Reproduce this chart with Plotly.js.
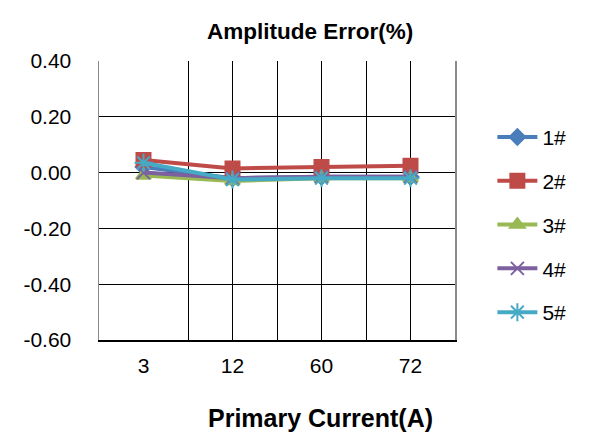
<!DOCTYPE html>
<html>
<head>
<meta charset="utf-8">
<script src="https://cdn.plot.ly/plotly-3.0.1.min.js"></script>
<style>html,body{margin:0;padding:0;background:#fff;}#chart{width:600px;height:442px;}</style>
</head>
<body>
<div id="chart"></div>
<script>
const categories = ['3', '12', '60', '72'];
const s1 = [0.02, -0.02, -0.015, -0.015];
const s2 = [0.045, 0.015, 0.02, 0.025];
const s3 = [-0.01, -0.03, -0.02, -0.02];
const s4 = [0.0, -0.02, -0.015, -0.015];
const s5 = [0.035, -0.025, -0.02, -0.02];
const seriesNames = ['1#', '2#', '3#', '4#', '5#'];
const yTickVals = [-0.6, -0.4, -0.2, 0, 0.2, 0.4];
const yTickText = ['-0.60', '-0.40', '-0.20', '0.00', '0.20', '0.40'];

const xIdx = categories.map((c, i) => i);
const styles = [
  {color: '#4a7ebb', symbol: 'diamond', size: 12},
  {color: '#be4b48', symbol: 'square', size: 14},
  {color: '#98b954', symbol: 'triangle-up', size: 13},
  {color: '#7d60a0', symbol: 'x-thin-open', size: 13},
  {color: '#46aac5', symbol: 'asterisk-open', size: 15}
];
const data = [s1, s2, s3, s4, s5].map((ys, k) => ({
  type: 'scatter', mode: 'lines+markers', x: xIdx, y: ys, name: seriesNames[k],
  legendgroup: 'g' + k,
  line: {color: styles[k].color, width: 4},
  marker: {color: styles[k].color, symbol: styles[k].symbol, size: styles[k].size,
           line: {color: styles[k].color, width: 2}}
}));

const layout = {
  width: 600, height: 442,
  margin: {l: 99, r: 145, t: 61, b: 102},
  paper_bgcolor: '#fff', plot_bgcolor: '#fff',
  font: {family: 'Liberation Sans, Arial, sans-serif', color: '#000'},
  title: {text: '<b>Amplitude Error(%)</b>', x: 0.517, xanchor: 'center', y: 0.93, yanchor: 'middle',
          font: {size: 22.5, color: '#000'}},
  showlegend: true,
  legend: {x: 1.105, xanchor: 'left', y: 0.8, yanchor: 'top', font: {size: 21},
           tracegroupgap: 13.5, itemwidth: 40},
  annotations: [{text: '<b>Primary Current(A)</b>', xref: 'paper', yref: 'paper',
    x: 0.622, y: -0.28, xanchor: 'center', yanchor: 'middle', showarrow: false, font: {size: 25}}],
  xaxis: {
    range: [-0.5, 3.5], tickmode: 'array', tickvals: xIdx, ticktext: categories,
    showgrid: false, zeroline: false, showline: true, linecolor: '#000', linewidth: 1.5,
    ticks: '', tickfont: {size: 21}, ticklabelstandoff: 6,
    minor: {tickvals: [0.5, 1, 1.5, 2, 2.5, 3], showgrid: true, gridcolor: '#000', gridwidth: 1, ticks: ''}
  },
  yaxis: {
    range: [-0.6, 0.4], tickmode: 'array', tickvals: yTickVals, ticktext: yTickText,
    showgrid: true, gridcolor: '#000', gridwidth: 1, zeroline: false,
    showline: true, linecolor: '#8a8a8a', linewidth: 1.5, mirror: true,
    ticks: '', tickfont: {size: 21}, ticklabelstandoff: 22
  }
};
Plotly.newPlot('chart', data, layout, {displayModeBar: false, staticPlot: true});
</script>
</body>
</html>
